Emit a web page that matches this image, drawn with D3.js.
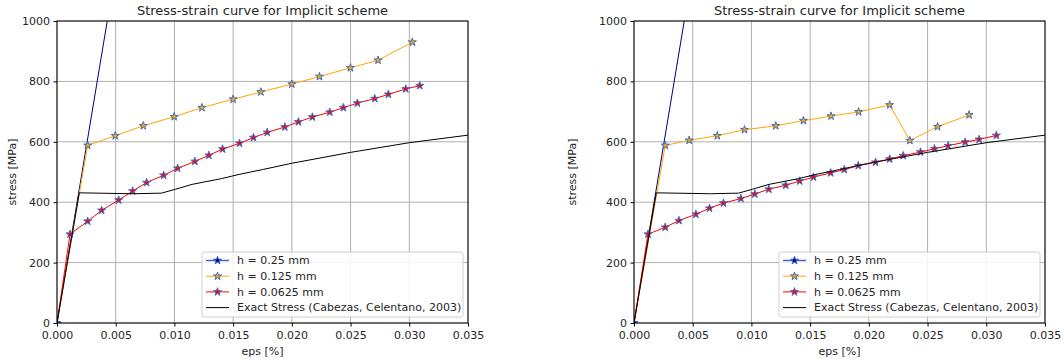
<!DOCTYPE html>
<html>
<head>
<meta charset="utf-8">
<script src="https://cdn.jsdelivr.net/npm/d3@7"></script>
<style>
  body { margin: 0; background: #fff; }
  svg { display: block; font-family: "DejaVu Sans", sans-serif; }
</style>
</head>
<body>
<div id="chart"></div>
<script>
// ticks
const epsTicks = [0, 0.005, 0.010, 0.015, 0.020, 0.025, 0.030, 0.035];
const stressTicks = [0, 200, 400, 600, 800, 1000];

// h = 0.25 mm (same in both panels, runs off the top)
const blueEps = [0, 0.0086];
const blueStress = [0, 2010];

// exact stress (Cabezas, Celentano, 2003)
const exactEps = [0, 0.0019, 0.0065, 0.0089, 0.0101, 0.0115, 0.0140, 0.0155, 0.0175, 0.020, 0.025, 0.030, 0.035];
const exactStress = [0, 431, 428, 430, 443, 459, 478, 492, 508, 529, 565, 597, 622];

// left panel
const leftOrangeEps = [0, 0.00261, 0.00496, 0.00735, 0.00998, 0.01234, 0.0150, 0.01736, 0.0200, 0.02235, 0.02499, 0.02734, 0.03026];
const leftOrangeStress = [0, 588, 620, 653, 683, 713, 741, 765, 791, 816, 845, 870, 930];
const leftRedEps = [0, 0.00111, 0.00261, 0.0038, 0.00525, 0.00644, 0.00763, 0.00908, 0.01027, 0.01174, 0.01293, 0.0141, 0.01554,
  0.01673, 0.0179, 0.0194, 0.02056, 0.02175, 0.02323, 0.02439, 0.02558, 0.02706, 0.02822, 0.0297, 0.03089];
const leftRedStress = [0, 294, 337, 373, 407, 437, 465, 489, 512, 535, 555, 576, 595,
  614, 631, 649, 666, 682, 698, 713, 728, 743, 757, 775, 786];

// right panel
const rightOrangeEps = [0, 0.00266, 0.0047, 0.00709, 0.00941, 0.01207, 0.01443, 0.01678, 0.01913, 0.02177, 0.02349, 0.02585, 0.02854];
const rightOrangeStress = [0, 588, 605, 620, 640, 653, 670, 685, 699, 722, 604, 650, 689];
const rightRedEps = [0, 0.00119, 0.00266, 0.00383, 0.00527, 0.00643, 0.00762, 0.0091, 0.01029, 0.01148, 0.01292, 0.01411, 0.01528,
  0.01675, 0.01791, 0.0191, 0.02057, 0.02177, 0.02293, 0.0244, 0.02559, 0.02675, 0.0282, 0.02939, 0.03086];
const rightRedStress = [0, 294, 317, 339, 360, 380, 397, 412, 427, 443, 456, 470, 483,
  497, 508, 521, 532, 543, 554, 566, 577, 587, 599, 608, 621];

const legendLabels = ["h = 0.25 mm", "h = 0.125 mm", "h = 0.0625 mm", "Exact Stress (Cabezas, Celentano, 2003)"];
const titleText = "Stress-strain curve for Implicit scheme";

const W = 1064, H = 363;
const svg = d3.select("#chart").append("svg")
    .attr("width", W)
    .attr("height", H);
svg.append("rect").attr("width", W).attr("height", H).attr("fill", "#fff");

const zip = (xs, ys) => xs.map((x, i) => ({x: x, y: ys[i]}));
const edge = "#3d6cc8";

function drawPanel(left, id, orange, red) {
    let width = 411, height = 302, top = 21;

    let x = d3.scaleLinear().domain([0, 0.035]).range([0, width]);
    let y = d3.scaleLinear().domain([0, 1000]).range([height, 0]);

    let g = svg.append("g").attr("transform", "translate(" + left + "," + top + ")");

    g.append("clipPath").attr("id", "clip" + id)
      .append("rect").attr("width", width).attr("height", height);

    // grid
    g.append("g")
        .selectAll("line").data(epsTicks).enter().append("line")
        .attr("x1", d => x(d)).attr("x2", d => x(d))
        .attr("y1", 0).attr("y2", height)
        .attr("stroke", "#b0b0b0").attr("stroke-width", 1);
    g.append("g")
        .selectAll("line").data(stressTicks).enter().append("line")
        .attr("x1", 0).attr("x2", width)
        .attr("y1", d => y(d)).attr("y2", d => y(d))
        .attr("stroke", "#b0b0b0").attr("stroke-width", 1);

    let line = d3.line()
        .x(d => x(d.x))
        .y(d => y(d.y))
        .curve(d3.curveLinear);

    let plot = g.append("g").attr("clip-path", "url(#clip" + id + ")");

    let series = [
        {data: zip(blueEps, blueStress), color: "#000080"},
        {data: orange, color: "#ffa500"},
        {data: red, color: "#ff0000"}
    ];
    series.forEach(s => {
        plot.append("path")
            .datum(s.data)
            .attr("fill", "none")
            .attr("stroke", s.color)
            .attr("stroke-width", 1)
            .attr("d", line);
        plot.selectAll(null)
            .data(s.data)
            .enter()
            .append("path")
            .attr("d", d3.symbol(d3.symbolStar, 20))
            .attr("transform", d => "translate(" + x(d.x) + "," + y(d.y) + ")")
            .attr("fill", s.color)
            .attr("stroke", edge)
            .attr("stroke-width", 1);
    });
    plot.append("path")
        .datum(zip(exactEps, exactStress))
        .attr("fill", "none")
        .attr("stroke", "#000")
        .attr("stroke-width", 1)
        .attr("d", line);

    // spines
    g.append("rect")
        .attr("width", width).attr("height", height)
        .attr("fill", "none").attr("stroke", "#000").attr("stroke-width", 1);

    // axes
    let xAxis = g.append("g")
        .attr("transform", "translate(0," + height + ")")
        .call(d3.axisBottom(x).tickValues(epsTicks).tickFormat(d3.format(".3f")).tickSizeOuter(0).tickSize(3.5).tickPadding(5));
    let yAxis = g.append("g")
        .call(d3.axisLeft(y).tickValues(stressTicks).tickFormat(d3.format("d")).tickSizeOuter(0).tickSize(3.5).tickPadding(3.5));
    [xAxis, yAxis].forEach(a => {
        a.select(".domain").remove();
        a.style("font", "11px 'DejaVu Sans'");
        a.selectAll("text").attr("fill", "#262626");
    });

    // labels
    g.append("text")
        .attr("x", width / 2).attr("y", -6)
        .attr("text-anchor", "middle")
        .style("font-size", "13px")
        .attr("fill", "#262626")
        .text(titleText);
    g.append("text")
        .attr("x", width / 2).attr("y", height + 32)
        .attr("text-anchor", "middle")
        .style("font-size", "11px")
        .attr("fill", "#262626")
        .text("eps [%]");
    g.append("text")
        .attr("transform", "rotate(-90)")
        .attr("x", -height / 2).attr("y", -left + (left > 300 ? 560 : 0) + 16)
        .attr("text-anchor", "middle")
        .style("font-size", "11px")
        .attr("fill", "#262626")
        .text("stress [MPa]");

    // legend
    let lw = 261, lh = 65;
    let lg = g.append("g").attr("transform", "translate(" + (width - 5 - lw) + "," + (height - 6 - lh) + ")");
    lg.append("rect")
        .attr("width", lw).attr("height", lh)
        .attr("rx", 2.5)
        .attr("fill", "#fff").attr("fill-opacity", 0.85)
        .attr("stroke", "#d0d0d0").attr("stroke-width", 1);
    let legendColors = ["#5560b4", "#ffa500", "#ff0000", "#000"];
    let faceColors = ["#000080", "#ffa500", "#ff0000", null];
    legendLabels.forEach((lab, i) => {
        let cy = 8.5 + i * 15.7;
        lg.append("line")
            .attr("x1", 4).attr("x2", 27).attr("y1", cy).attr("y2", cy)
            .attr("stroke", legendColors[i]).attr("stroke-width", i == 0 ? 1.5 : 1);
        if (faceColors[i]) {
            lg.append("path")
                .attr("d", d3.symbol(d3.symbolStar, 20))
                .attr("transform", "translate(15.5," + cy + ")")
                .attr("fill", faceColors[i])
                .attr("stroke", edge).attr("stroke-width", 1);
        }
        lg.append("text")
            .attr("x", 35).attr("y", cy).attr("dy", "0.35em")
            .style("font-size", "11px")
            .attr("fill", "#262626")
            .text(lab);
    });
}

drawPanel(57, "L", zip(leftOrangeEps, leftOrangeStress), zip(leftRedEps, leftRedStress));
drawPanel(634, "R", zip(rightOrangeEps, rightOrangeStress), zip(rightRedEps, rightRedStress));
</script>
</body>
</html>
